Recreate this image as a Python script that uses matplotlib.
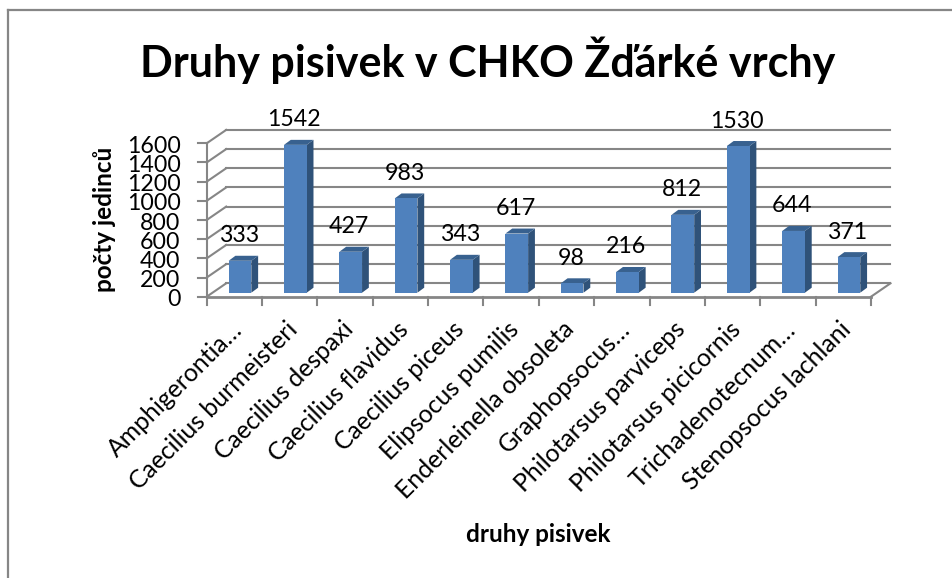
import matplotlib
matplotlib.use("Agg")
import matplotlib.pyplot as plt
from matplotlib.lines import Line2D

plt.rcParams['font.family'] = ['Lato', 'DejaVu Sans']

title = "Druhy pisivek v CHKO Žďárké vrchy"
xlabel = "druhy pisivek"
ylabel = "počty jedinců"
categories = ["Amphigerontia…", "Caecilius burmeisteri", "Caecilius despaxi",
              "Caecilius flavidus", "Caecilius piceus", "Elipsocus pumilis",
              "Enderleinella obsoleta", "Graphopsocus…", "Philotarsus parviceps",
              "Philotarsus picicornis", "Trichadenotecnum…", "Stenopsocus lachlani"]
values = [333, 1542, 427, 983, 343, 617, 98, 216, 812, 1530, 644, 371]
yticks = [0, 200, 400, 600, 800, 1000, 1200, 1400, 1600]

W, H = 953, 578
L, R, B, T = 206.7, 871.0, 296.7, 143.3
fig = plt.figure(figsize=(W / 100, H / 100), dpi=100)
ax = fig.add_axes([L / W, 1 - B / H, (R - L) / W, (B - T) / H])
n = len(categories)
ax.set_xlim(0, n)
ax.set_ylim(0, 1600)
ax.axis('off')

px = (R - L) / n          # pixels per category
py = (B - T) / 1600       # pixels per unit
GREY = '#868686'
wall_dx, wall_dy = 19.5 / px, 13.4 / py
lw = 1.5

# walls and floor
for t in yticks:
    ax.plot([0, wall_dx], [t, t + wall_dy], color=GREY, lw=lw, clip_on=False, zorder=1)
    ax.plot([wall_dx, n + wall_dx], [t + wall_dy, t + wall_dy], color=GREY, lw=lw, clip_on=False, zorder=1)
    ax.plot([-8.5 / px, 0], [t, t], color=GREY, lw=lw, clip_on=False, zorder=1)
ax.plot([0, n], [0, 0], color=GREY, lw=2, clip_on=False, zorder=2)
ax.plot([n, n + wall_dx], [0, wall_dy], color=GREY, lw=lw, clip_on=False, zorder=1)
ax.plot([0, 0], [0, 1600], color=GREY, lw=lw, clip_on=False, zorder=2)
for i in range(n + 1):
    ax.plot([i, i], [0, -8.5 / py], color=GREY, lw=lw, clip_on=False, zorder=1)

# 3D bars
bw = 22.7 / px
off_x, off_y = 5.6 / px - bw / 2 + 0.5, 4.0 / py
dep_x, dep_y = 6.8 / px, 5.0 / py
for i, v in enumerate(values):
    x0 = i + off_x
    x1 = x0 + bw
    y0 = off_y
    y1 = off_y + v
    ax.fill([x1, x1 + dep_x, x1 + dep_x, x1], [y0, y0 + dep_y, y1 + dep_y, y1],
            color='#2F5279', lw=0, clip_on=False, zorder=3)
    ax.fill([x0, x1, x1 + dep_x, x0 + dep_x], [y1, y1, y1 + dep_y, y1 + dep_y],
            color='#38618F', lw=0, clip_on=False, zorder=3)
    ax.bar(x0, v, width=bw, bottom=y0, align='edge', color='#4F81BD', lw=0, clip_on=False, zorder=4)
    ax.annotate(str(v), (x0 + bw / 2, y1), xytext=(-1, 18), textcoords='offset points',
                ha='center', va='center', fontsize=16.7, color='black', annotation_clip=False, zorder=5)

# tick labels
for t in yticks:
    ax.annotate(str(t), (0, t), xytext=(-26 * 0.72, -2.2), textcoords='offset points',
                ha='right', va='center', fontsize=16.7, color='black', annotation_clip=False)
for i, c in enumerate(categories):
    ax.annotate(c, (i + 0.5, 0), xytext=(-3, -15), textcoords='offset points',
                ha='right', va='top', rotation=45, rotation_mode='anchor',
                fontsize=17.8, color='black', annotation_clip=False)

fig.text(488 / W, 1 - 60 / H, title, ha='center', va='center', fontsize=31, fontweight='bold', color='black')
fig.text(538 / W, 1 - 534 / H, xlabel, ha='center', va='center', fontsize=17.5, fontweight='bold', color='black')
fig.text(104 / W, 1 - 219 / H, ylabel, ha='center', va='center', rotation=90, fontsize=17.5, fontweight='bold', color='black')

# outer chart frame
fig.add_artist(Line2D([8 / W, 8 / W], [0, 1 - 10 / H], color=GREY, lw=1.6, transform=fig.transFigure))
fig.add_artist(Line2D([8 / W, 1], [1 - 10 / H, 1 - 10 / H], color=GREY, lw=1.6, transform=fig.transFigure))

fig.savefig('out.png', dpi=100, facecolor='white')
